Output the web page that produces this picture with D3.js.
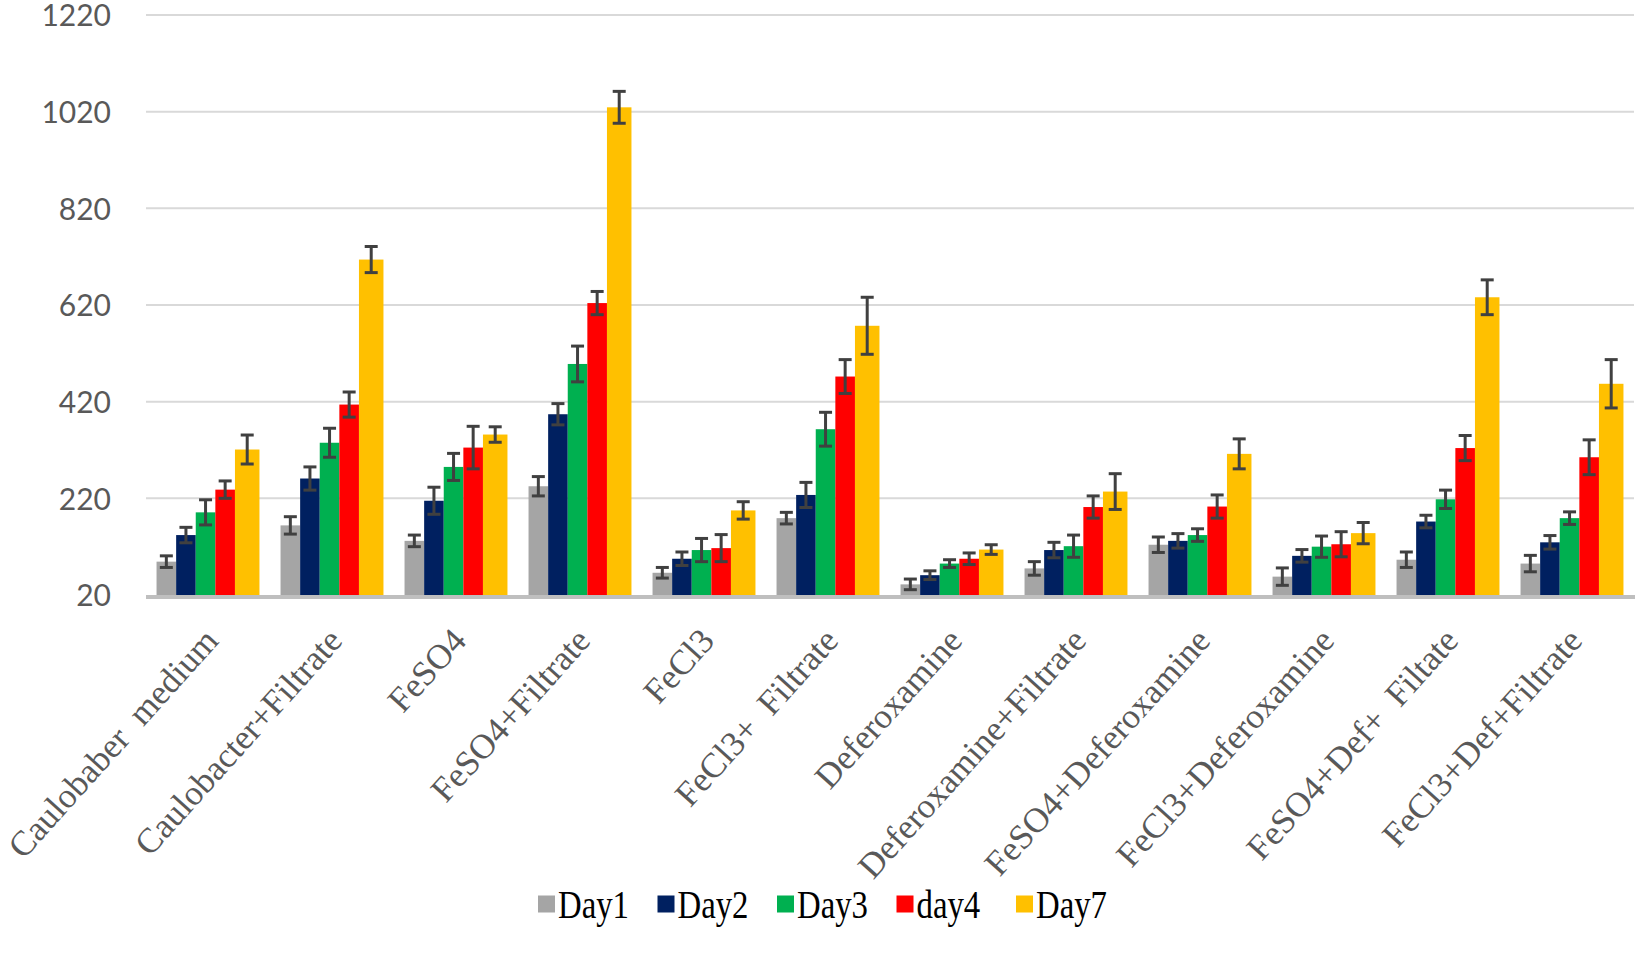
<!DOCTYPE html>
<meta charset="utf-8">
<script src="https://cdn.jsdelivr.net/npm/d3@7"></script>
<style>
  body { margin: 0; background: #fff; }
  svg { display: block; }
</style>
<div id="vis"></div>
<script>
// groups on the x axis
const categories = [
  "Caulobaber  medium", "Caulobacter+Filtrate", "FeSO4", "FeSO4+Filtrate",
  "FeCl3", "FeCl3+  Filtrate", "Deferoxamine", "Deferoxamine+Filtrate",
  "FeSO4+Deferoxamine", "FeCl3+Deferoxamine", "FeSO4+Def+  Filtate", "FeCl3+Def+Filtrate"
];
const days = ["Day1", "Day2", "Day3", "day4", "Day7"];

// mean values per day, one entry per category
const day1 = [89, 164, 132, 245, 66, 179, 42, 75, 124, 58, 93, 85];
const day2 = [144, 261, 215, 394, 95, 227, 61, 113, 132, 101, 172, 129];
const day3 = [191, 335, 285, 498, 113, 363, 85, 121, 144, 120, 218, 179];
const day4 = [238, 414, 325, 624, 117, 472, 95, 202, 203, 125, 324, 305];
const day7 = [321, 714, 352, 1029, 195, 577, 114, 234, 312, 148, 636, 457];

// error bar half-lengths
const err1 = [12, 18, 12, 20, 11, 12, 11, 14, 16, 18, 16, 17];
const err2 = [16, 24, 28, 22, 14, 26, 9, 16, 15, 13, 13, 14];
const err3 = [26, 30, 28, 37, 24, 35, 8, 23, 13, 22, 19, 13];
const err4 = [18, 26, 44, 24, 28, 35, 12, 23, 24, 26, 26, 36];
const err7 = [30, 27, 16, 33, 18, 59, 10, 37, 31, 22, 36, 50];

const yTicks = [20, 220, 420, 620, 820, 1020, 1220];

const series = [day1, day2, day3, day4, day7];
const errors = [err1, err2, err3, err4, err7];
const colors = ["#A5A5A5", "#002060", "#00B050", "#FF0000", "#FFC000"];

const W = 1638, H = 956;
const plot = { left: 146, right: 1634, top: 15, bottom: 595 };

const svg = d3.select("#vis").append("svg")
  .attr("width", W)
  .attr("height", H);

const y = d3.scaleLinear()
  .domain([20, 1220])
  .range([plot.bottom, plot.top]);

const x0 = d3.scaleBand()
  .domain(categories)
  .range([plot.left, plot.right])
  .paddingInner(0.17)
  .paddingOuter(0.085);

// the last (Day7) bar is drawn a bit wider than the others, like the original
const wideFactor = 1.25;
const x1 = d3.scaleBand()
  .domain(days)
  .range([0, x0.bandwidth() * 5 / (4 + wideFactor)]);

// gridlines
svg.append("g")
  .selectAll("line")
  .data(yTicks.slice(1))
  .join("line")
  .attr("x1", plot.left)
  .attr("x2", plot.right)
  .attr("y1", d => y(d))
  .attr("y2", d => y(d))
  .attr("stroke", "#D9D9D9")
  .attr("stroke-width", 2);

// y axis labels
const yAxis = d3.axisLeft(y)
  .tickValues(yTicks)
  .tickFormat(d3.format("d"))
  .tickSize(0)
  .tickPadding(0);
const gy = svg.append("g")
  .attr("transform", `translate(${plot.left - 35},0)`)
  .call(yAxis);
gy.select(".domain").remove();
gy.selectAll("text")
  .attr("font-family", "Lato, 'Open Sans', sans-serif")
  .attr("font-size", 30)
  .attr("fill", "#595959")
  .attr("dy", "0.36em");

// bars
const rows = [];
categories.forEach((c, i) => {
  days.forEach((d, j) => {
    rows.push({ cat: c, day: d, j: j, value: series[j][i], err: errors[j][i] });
  });
});

const barW = d => x1.bandwidth() * (d.j === 4 ? wideFactor : 1);

svg.append("g")
  .selectAll("rect")
  .data(rows)
  .join("rect")
  .attr("x", d => x0(d.cat) + x1(d.day))
  .attr("y", d => y(d.value))
  .attr("width", barW)
  .attr("height", d => y(20) - y(d.value))
  .attr("fill", d => colors[d.j]);

// x axis line
svg.append("line")
  .attr("x1", plot.left)
  .attr("x2", plot.right + 1)
  .attr("y1", plot.bottom + 2)
  .attr("y2", plot.bottom + 2)
  .attr("stroke", "#BFBFBF")
  .attr("stroke-width", 4);

// error bars
const eb = svg.append("g")
  .attr("stroke", "#404040")
  .attr("stroke-width", 3)
  .selectAll("g")
  .data(rows)
  .join("g")
  .attr("transform", d => `translate(${x0(d.cat) + x1(d.day) + barW(d) / 2},0)`);

eb.append("line")
  .attr("y1", d => y(d.value + d.err))
  .attr("y2", d => y(d.value - d.err));
eb.append("line")
  .attr("x1", -6.5).attr("x2", 6.5)
  .attr("y1", d => y(d.value + d.err))
  .attr("y2", d => y(d.value + d.err));
eb.append("line")
  .attr("x1", -6.5).attr("x2", 6.5)
  .attr("y1", d => y(d.value - d.err))
  .attr("y2", d => y(d.value - d.err));

// category labels, rotated
svg.append("g")
  .selectAll("text")
  .data(categories)
  .join("text")
  .attr("transform", d => `translate(${x0(d) + x0.bandwidth() / 2 + 12},642) rotate(-48)`)
  .attr("text-anchor", "end")
  .attr("font-family", "'Liberation Serif', 'Times New Roman', serif")
  .attr("font-size", 35)
  .attr("fill", "#595959")
  .style("white-space", "pre")
  .text(d => d);

// legend
const legend = svg.append("g")
  .selectAll("g")
  .data(days)
  .join("g")
  .attr("transform", (d, i) => `translate(${538 + i * 119.5},904)`);

legend.append("rect")
  .attr("x", 0)
  .attr("y", -8.5)
  .attr("width", 17)
  .attr("height", 17)
  .attr("fill", (d, i) => colors[i]);

legend.append("text")
  .attr("transform", "translate(20,14) scale(0.82,1)")
  .attr("font-family", "'Liberation Serif', 'Times New Roman', serif")
  .attr("font-size", 40)
  .attr("fill", "#000")
  .text(d => d);
</script>
